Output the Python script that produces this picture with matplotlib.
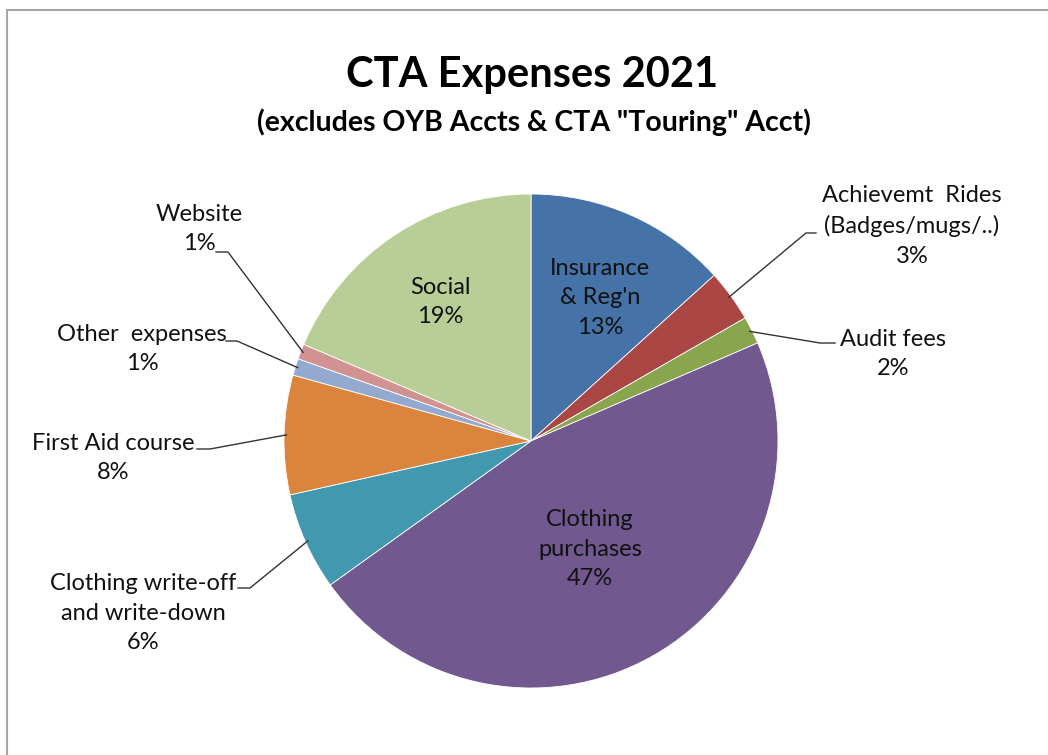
import matplotlib
matplotlib.use("Agg")
import matplotlib.pyplot as plt
import numpy as np
from matplotlib.patches import Rectangle

plt.rcParams['font.family'] = ['Lato', 'DejaVu Sans']

# ---- data ----
categories = ["Insurance\n& Reg'n", "Achievemt  Rides\n(Badges/mugs/..)", "Audit fees",
              "Clothing\npurchases", "Clothing write-off\nand write-down", "First Aid course",
              "Other  expenses", "Website", "Social"]
values = [13.3, 3.4, 1.8, 46.6, 6.4, 7.8, 1.1, 1.0, 18.6]
colors = ["#4572A7", "#AA4643", "#89A54E", "#71588F", "#4198AF",
          "#DB843D", "#93A9CF", "#D19392", "#B9CD96"]
title = "CTA Expenses 2021"
subtitle = '(excludes OYB Accts & CTA "Touring" Acct)'

W, H = 1048, 755
fig = plt.figure(figsize=(W / 100, H / 100), dpi=100)
ax = fig.add_axes([0, 0, 1, 1])

# frame
ax.add_patch(Rectangle((7, -20), W + 40, H - 5 + 20 - 7 + 2, fill=False,
                       edgecolor="#A6A6A6", lw=1.5))

cx, cy, R = 531, H - 441, 247
wedges, _ = ax.pie(values, colors=colors, startangle=90, counterclock=False,
                   center=(cx, cy), radius=R, frame=True,
                   wedgeprops=dict(linewidth=0.6, edgecolor="white"))
ax.set_xlim(0, W)
ax.set_ylim(0, H)
ax.set_aspect('equal')
ax.axis('off')

total = sum(values)
pcts = [f"{v / total * 100:.0f}%" for v in values]

txtc = "#111111"
fs = 17
ls = 1.5

# layout: text centre (x, y from top), leader elbow and end (y from top)
inside = {0: (600, 298), 3: (590, 549), 8: (440, 302)}
outside = {
    1: (912, 226, (806, 233), (816, 233)),
    2: (893, 354, (820, 343), (835, 343)),
    4: (143, 613, (250, 588), (238, 588)),
    5: (113, 458, (210, 449), (197, 449)),
    6: (142, 349, (237, 341), (226, 341)),
    7: (199, 229, (228, 252), (216, 252)),
}

for i, (x, y) in inside.items():
    ax.text(x, H - y, categories[i] + "\n" + pcts[i], ha="center", va="center",
            fontsize=fs, color=txtc, linespacing=ls)

cum = np.cumsum([0] + values)
for i, (x, y, elbow, end) in outside.items():
    mid = (cum[i] + cum[i + 1]) / 2 / total * 2 * np.pi
    sx = cx + R * 0.99 * np.sin(mid)
    sy = cy + R * 0.99 * np.cos(mid)
    ax.plot([sx, elbow[0], end[0]], [sy, H - elbow[1], H - end[1]],
            color="#333333", lw=1.0)
    ax.text(x, H - y, categories[i] + "\n" + pcts[i], ha="center", va="center",
            fontsize=fs, color=txtc, linespacing=ls)

ax.text(532, H - 75, title, ha="center", va="center", fontsize=30,
        fontweight="bold", color="black")
ax.text(534, H - 122, subtitle, ha="center", va="center", fontsize=20.5,
        fontweight="bold", color="black")

fig.savefig("out.png", dpi=100)
